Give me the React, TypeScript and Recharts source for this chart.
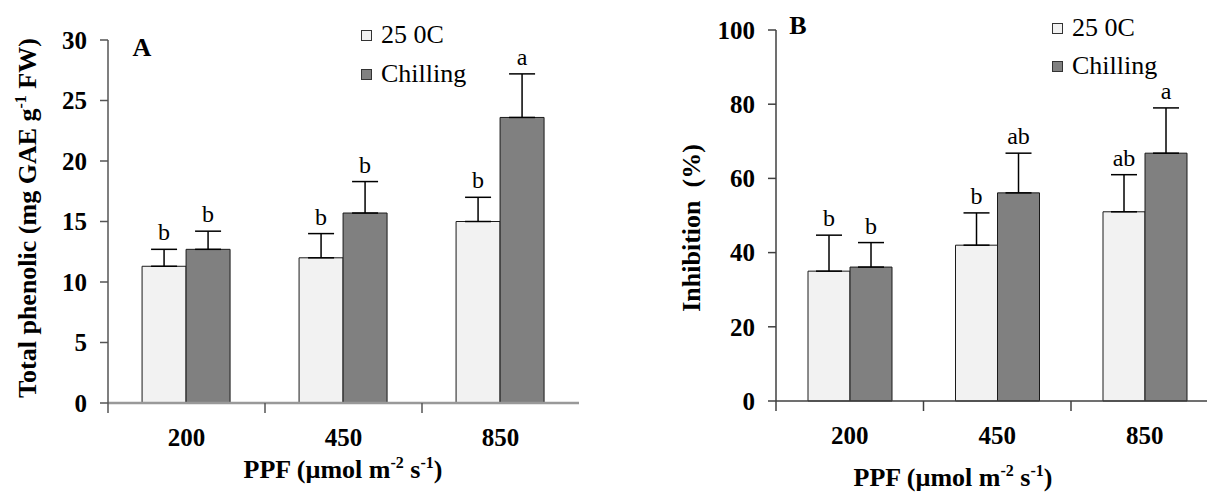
import { BarChart, Bar, XAxis, YAxis, ErrorBar, LabelList } from "recharts";

// categories and legend names
const ppf = ["200", "450", "850"];
const seriesNames = ["25 0C", "Chilling"];

// panel A: total phenolic
const phenolicWarm = [11.3, 12.0, 15.0];
const phenolicWarmErr = [1.4, 2.0, 2.0];
const phenolicChill = [12.7, 15.7, 23.6];
const phenolicChillErr = [1.5, 2.6, 3.6];
const phenolicWarmLetters = ["b", "b", "b"];
const phenolicChillLetters = ["b", "b", "a"];
const phenolicTicks = [0, 5, 10, 15, 20, 25, 30];

// panel B: inhibition
const inhibWarm = [35, 42, 51];
const inhibWarmErr = [9.7, 8.7, 10.0];
const inhibChill = [36.1, 56.1, 66.8];
const inhibChillErr = [6.6, 10.7, 12.2];
const inhibWarmLetters = ["b", "b", "ab"];
const inhibChillLetters = ["b", "ab", "a"];
const inhibTicks = [0, 20, 40, 60, 80, 100];

const FONT = "'Liberation Serif', 'Times New Roman', serif";
const LIGHT = "#f2f2f2";
const DARK = "#808080";

function buildRows(warm: number[], warmErr: number[], chill: number[], chillErr: number[]) {
  return ppf.map((p, i) => ({
    ppf: p,
    warm: warm[i],
    warmErr: [0, warmErr[i]],
    chill: chill[i],
    chillErr: [0, chillErr[i]],
  }));
}

const phenolicRows = buildRows(phenolicWarm, phenolicWarmErr, phenolicChill, phenolicChillErr);
const inhibRows = buildRows(inhibWarm, inhibWarmErr, inhibChill, inhibChillErr);

// letter sits just above the error bar cap
function letterLabel(vals: number[], errs: number[], letters: string[]) {
  return (props: any) => {
    const box = props.viewBox ?? props;
    const x = Number(box.x ?? props.x);
    const y = Number(box.y ?? props.y);
    const w = Number(box.width ?? props.width);
    const h = Number(box.height ?? props.height);
    const v = Number(props.value);
    const i = props.index ?? vals.indexOf(v);
    const barTop = h >= 0 ? y : y + h;
    const top = barTop - (errs[i] * Math.abs(h)) / v;
    return (
      <text key={`l-${i}`} x={x + w / 2} y={top - 9} textAnchor="middle" fontSize={24} fill="#000" fontFamily={FONT}>
        {letters[i]}
      </text>
    );
  };
}

function ppfTick(color: string, fallbackHalf: number) {
  return (props: any) => {
    const { x, y, payload } = props;
    const half = payload && payload.offset > 0 ? payload.offset : fallbackHalf;
    return (
      <g>
        <line x1={x - half} x2={x - half} y1={y} y2={y + 10} stroke={color} strokeWidth={1.5} />
        <text x={x} y={y + 34} textAnchor="middle" dominantBaseline="central" fontSize={25} fontWeight="bold" fill="#000" fontFamily={FONT}>
          {payload.value}
        </text>
      </g>
    );
  };
}

interface PanelProps {
  rows: any[];
  ticks: number[];
  width: number;
  yWidth: number;
  top: number;
  right: number;
  bottom: number;
  yColor: string;
  xColor: string;
  xWidth: number;
  warm: number[];
  warmErr: number[];
  warmLetters: string[];
  chill: number[];
  chillErr: number[];
  chillLetters: string[];
}

function Panel(p: PanelProps) {
  const plotW = p.width - p.yWidth - p.right;
  return (
    <BarChart
      width={p.width}
      height={493}
      data={p.rows}
      margin={{ top: p.top, right: p.right, bottom: p.bottom, left: 0 }}
      barCategoryGap="21.7%"
      barGap={0}
    >
      <XAxis
        dataKey="ppf"
        height={40}
        axisLine={{ stroke: p.xColor, strokeWidth: p.xWidth }}
        tickLine={false}
        tickSize={0}
        tickMargin={0}
        interval={0}
        tick={ppfTick(p.yColor, plotW / ppf.length / 2)}
      />
      <YAxis
        width={p.yWidth}
        domain={[0, p.ticks[p.ticks.length - 1]]}
        ticks={p.ticks}
        interval={0}
        axisLine={{ stroke: p.yColor, strokeWidth: 1.5 }}
        tickLine={{ stroke: p.yColor, strokeWidth: 1.5 }}
        tickSize={8}
        tickMargin={13}
        tick={{ fontSize: 25, fontWeight: "bold", fill: "#000", fontFamily: FONT }}
      />
      <Bar dataKey="warm" fill={LIGHT} stroke="#1a1a1a" strokeWidth={1} isAnimationActive={false}>
        <ErrorBar dataKey="warmErr" direction="y" width={13} stroke="#000" strokeWidth={1.5} isAnimationActive={false} />
        <LabelList dataKey="warm" content={letterLabel(p.warm, p.warmErr, p.warmLetters)} />
      </Bar>
      <Bar dataKey="chill" fill={DARK} stroke="#1a1a1a" strokeWidth={1} isAnimationActive={false}>
        <ErrorBar dataKey="chillErr" direction="y" width={13} stroke="#000" strokeWidth={1.5} isAnimationActive={false} />
        <LabelList dataKey="chill" content={letterLabel(p.chill, p.chillErr, p.chillLetters)} />
      </Bar>
    </BarChart>
  );
}

function LegendBox({ left, top, gap }: { left: number; top: number; gap: number }) {
  const fills = [LIGHT, DARK];
  return (
    <div style={{ position: "absolute", left, top, fontSize: 26, lineHeight: "26px" }}>
      {seriesNames.map((name, i) => (
        <div key={name} style={{ display: "flex", alignItems: "center", height: 26, marginBottom: i === 0 ? gap : 0 }}>
          <span style={{ width: 9, height: 9, background: fills[i], border: "1px solid #333", marginRight: 9 }} />
          <span>{name}</span>
        </div>
      ))}
    </div>
  );
}

const centered = (left: number, top: number, rotate = false): React.CSSProperties => ({
  position: "absolute",
  left,
  top,
  transform: `translate(-50%, -50%)${rotate ? " rotate(-90deg)" : ""}`,
  whiteSpace: "nowrap",
  fontSize: 26,
  fontWeight: "bold",
  lineHeight: 1,
});

const sup: React.CSSProperties = { fontSize: 16, position: "relative", top: -10 };

export default function App() {
  return (
    <div
      style={{
        position: "absolute",
        left: 0,
        top: 0,
        width: 1207,
        height: 493,
        overflow: "hidden",
        background: "#fff",
        fontFamily: FONT,
        color: "#000",
      }}
    >
      <div style={{ position: "absolute", left: 0, top: 0 }}>
        <Panel
          rows={phenolicRows}
          ticks={phenolicTicks}
          width={600}
          yWidth={108}
          top={40}
          right={21}
          bottom={50}
          yColor="#555"
          xColor="#999"
          xWidth={2.5}
          warm={phenolicWarm}
          warmErr={phenolicWarmErr}
          warmLetters={phenolicWarmLetters}
          chill={phenolicChill}
          chillErr={phenolicChillErr}
          chillLetters={phenolicChillLetters}
        />
      </div>
      <div style={{ position: "absolute", left: 600, top: 0 }}>
        <Panel
          rows={inhibRows}
          ticks={inhibTicks}
          width={640}
          yWidth={176}
          top={30}
          right={21.5}
          bottom={52}
          yColor="#404040"
          xColor="#404040"
          xWidth={1.5}
          warm={inhibWarm}
          warmErr={inhibWarmErr}
          warmLetters={inhibWarmLetters}
          chill={inhibChill}
          chillErr={inhibChillErr}
          chillLetters={inhibChillLetters}
        />
      </div>

      <div style={centered(142, 48)}>A</div>
      <div style={centered(798, 26)}>B</div>

      <div style={centered(28, 218, true)}>
        Total phenolic (mg GAE g<span style={sup}>-1</span> FW)
      </div>
      <div style={centered(692, 228, true)}>Inhibition&nbsp; (%)</div>

      <div style={centered(343, 470)}>
        PPF (µmol m<span style={sup}>-2</span> s<span style={sup}>-1</span>)
      </div>
      <div style={centered(953, 478)}>
        PPF (µmol m<span style={sup}>-2</span> s<span style={sup}>-1</span>)
      </div>

      <LegendBox left={361} top={22} gap={13} />
      <LegendBox left={1052} top={15} gap={12} />
    </div>
  );
}
